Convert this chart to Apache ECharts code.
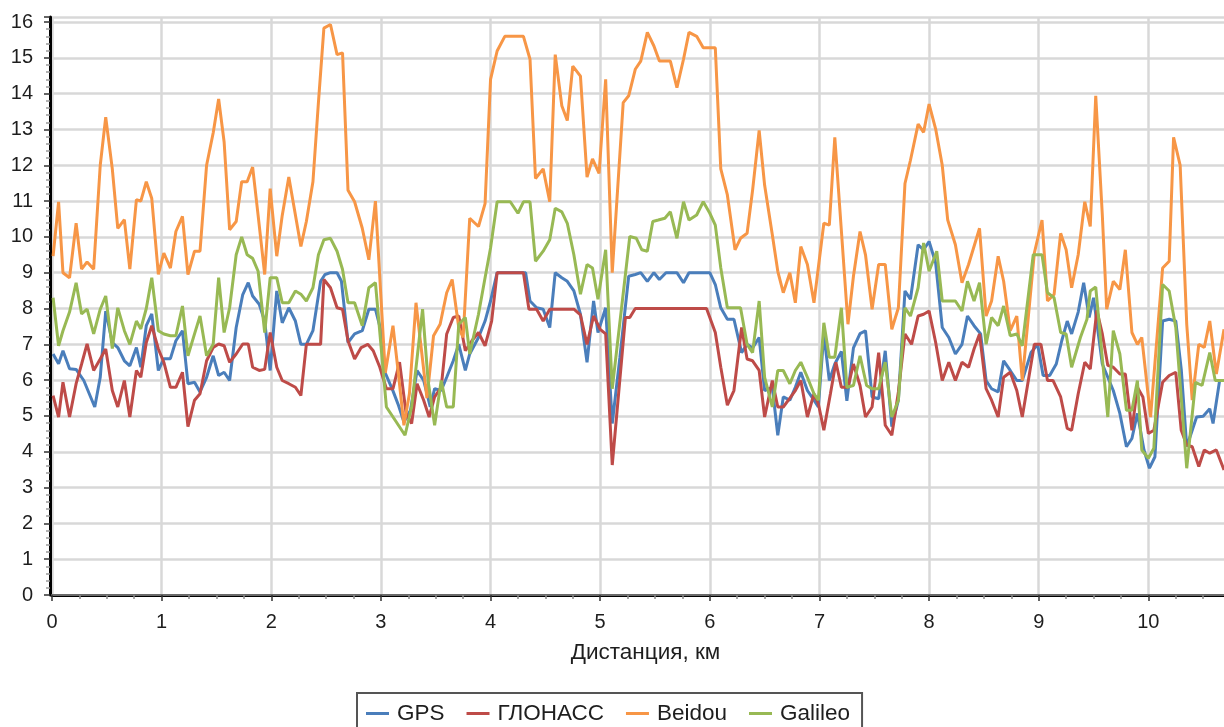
<!DOCTYPE html>
<html>
<head>
<meta charset="utf-8">
<script src="https://cdn.jsdelivr.net/npm/echarts@6/dist/echarts.min.js"></script>
<style>
  html, body { margin: 0; padding: 0; background: #fff; overflow: hidden; }
  #chart { width: 1224px; height: 727px; }
</style>
</head>
<body>
<div id="chart"></div>
<script>
// ---- Data (distance km, value) ----
const seriesNames = ['GPS', 'ГЛОНАСС', 'Beidou', 'Galileo'];
const xAxisName = 'Дистанция, км';

const gpsData = [[0.01,6.73],[0.06,6.46],[0.10,6.82],[0.16,6.32],[0.22,6.3],[0.29,5.99],[0.39,5.25],[0.44,6.08],[0.49,7.93],[0.55,7.05],[0.60,6.91],[0.66,6.54],[0.71,6.4],[0.77,6.91],[0.81,6.36],[0.86,7.52],[0.91,7.85],[0.97,6.27],[1.02,6.6],[1.08,6.6],[1.13,7.1],[1.19,7.38],[1.24,5.9],[1.30,5.94],[1.35,5.67],[1.41,6.08],[1.47,6.68],[1.52,6.13],[1.57,6.22],[1.62,5.99],[1.68,7.47],[1.74,8.39],[1.79,8.72],[1.83,8.35],[1.89,8.12],[1.94,7.65],[1.99,6.27],[2.05,8.49],[2.10,7.6],[2.16,8.02],[2.22,7.65],[2.27,7.0],[2.32,7.0],[2.38,7.38],[2.45,8.76],[2.49,8.95],[2.54,9.0],[2.60,9.0],[2.64,8.76],[2.70,7.05],[2.76,7.29],[2.83,7.38],[2.89,7.98],[2.95,7.98],[3.00,7.38],[3.04,6.2],[3.11,5.7],[3.16,5.3],[3.21,4.83],[3.27,5.16],[3.33,6.27],[3.39,5.99],[3.45,5.25],[3.49,5.76],[3.55,5.71],[3.60,6.08],[3.66,6.54],[3.71,7.0],[3.77,6.27],[3.81,6.73],[3.89,7.19],[3.95,7.65],[4.00,8.21],[4.06,9.0],[4.13,9.0],[4.19,9.0],[4.25,9.0],[4.32,9.0],[4.36,8.21],[4.42,8.02],[4.48,7.98],[4.54,7.47],[4.59,9.0],[4.65,8.86],[4.70,8.76],[4.76,8.49],[4.82,7.84],[4.88,6.5],[4.94,8.21],[4.98,7.33],[5.05,8.02],[5.11,4.79],[5.18,6.64],[5.26,8.9],[5.32,8.95],[5.37,9.0],[5.43,8.76],[5.49,9.0],[5.54,8.81],[5.60,9.0],[5.65,9.0],[5.70,9.0],[5.76,8.72],[5.81,9.0],[5.88,9.0],[5.94,9.0],[6.00,9.0],[6.05,8.67],[6.10,8.02],[6.16,7.7],[6.22,7.7],[6.29,6.77],[6.34,7.0],[6.39,6.9],[6.45,7.19],[6.50,5.71],[6.57,5.8],[6.62,4.46],[6.67,5.53],[6.73,5.44],[6.78,5.8],[6.83,6.22],[6.89,5.71],[6.95,5.44],[6.99,5.25],[7.04,7.29],[7.09,5.99],[7.14,6.45],[7.20,6.8],[7.25,5.42],[7.31,6.9],[7.37,7.3],[7.42,7.38],[7.48,5.53],[7.54,5.48],[7.60,6.82],[7.66,4.7],[7.72,5.44],[7.78,8.49],[7.83,8.26],[7.90,9.78],[7.95,9.64],[8.00,9.87],[8.06,9.27],[8.12,7.47],[8.18,7.19],[8.24,6.73],[8.30,7.0],[8.35,7.79],[8.41,7.52],[8.47,7.29],[8.52,5.99],[8.57,5.76],[8.63,5.67],[8.68,6.54],[8.74,6.27],[8.80,5.99],[8.85,5.99],[8.93,6.77],[8.99,7.0],[9.04,6.13],[9.10,6.13],[9.16,6.45],[9.21,7.1],[9.26,7.65],[9.30,7.29],[9.36,7.9],[9.41,8.72],[9.46,7.75],[9.50,8.3],[9.58,6.45],[9.63,6.08],[9.68,5.71],[9.74,5.07],[9.80,4.14],[9.85,4.37],[9.90,5.07],[9.96,4.05],[10.01,3.54],[10.06,3.86],[10.13,7.65],[10.19,7.7],[10.25,7.65],[10.30,6.3],[10.35,4.14],[10.40,4.6],[10.44,4.97],[10.50,4.99],[10.56,5.2],[10.59,4.79],[10.65,5.99],[10.69,5.99]];

const glonassData = [[0.01,5.57],[0.06,4.97],[0.10,5.94],[0.16,4.97],[0.22,5.9],[0.27,6.45],[0.32,7.01],[0.38,6.27],[0.44,6.59],[0.49,6.87],[0.55,5.71],[0.60,5.25],[0.66,5.99],[0.71,4.97],[0.77,6.27],[0.81,6.08],[0.86,7.05],[0.91,7.52],[0.97,6.87],[1.02,6.5],[1.08,5.8],[1.13,5.8],[1.19,6.22],[1.24,4.7],[1.30,5.44],[1.35,5.62],[1.41,6.54],[1.47,6.91],[1.52,7.01],[1.57,6.96],[1.62,6.5],[1.68,6.73],[1.74,7.01],[1.79,7.01],[1.83,6.36],[1.89,6.27],[1.94,6.3],[1.99,7.33],[2.05,6.36],[2.10,5.99],[2.16,5.9],[2.22,5.8],[2.27,5.57],[2.32,7.0],[2.38,7.0],[2.45,7.0],[2.48,8.81],[2.54,8.58],[2.60,8.02],[2.65,7.98],[2.70,7.1],[2.76,6.59],[2.82,6.91],[2.88,7.0],[2.93,6.82],[2.99,6.36],[3.05,5.76],[3.11,5.76],[3.17,6.5],[3.23,5.07],[3.28,4.79],[3.33,5.9],[3.39,5.44],[3.44,4.97],[3.49,5.53],[3.55,5.8],[3.60,7.29],[3.66,7.75],[3.71,7.79],[3.77,6.82],[3.83,7.1],[3.89,7.33],[3.95,6.96],[4.01,7.65],[4.06,9.0],[4.30,9.0],[4.35,7.98],[4.42,7.98],[4.48,7.65],[4.54,7.98],[4.76,7.98],[4.82,7.82],[4.88,7.0],[4.94,7.79],[5.00,7.42],[5.05,7.29],[5.11,3.63],[5.23,7.75],[5.27,7.75],[5.32,8.0],[5.97,8.0],[6.05,7.33],[6.10,6.36],[6.16,5.3],[6.22,5.71],[6.29,7.47],[6.34,6.59],[6.39,6.54],[6.45,6.27],[6.50,4.97],[6.57,5.99],[6.62,5.25],[6.67,5.25],[6.73,5.5],[6.78,5.71],[6.83,5.99],[6.89,4.97],[6.95,5.62],[6.99,5.34],[7.04,4.6],[7.10,5.62],[7.15,6.5],[7.20,5.8],[7.26,5.8],[7.31,6.45],[7.37,5.85],[7.42,4.97],[7.48,5.25],[7.54,6.77],[7.60,4.74],[7.66,4.46],[7.72,5.67],[7.78,7.29],[7.84,7.0],[7.90,7.79],[7.95,7.84],[8.00,7.93],[8.06,7.05],[8.12,5.99],[8.18,6.5],[8.24,5.99],[8.30,6.5],[8.36,6.36],[8.41,6.87],[8.46,7.29],[8.52,5.76],[8.57,5.44],[8.63,4.97],[8.68,6.08],[8.74,6.22],[8.80,5.71],[8.85,4.97],[8.91,6.08],[8.96,7.0],[9.02,7.0],[9.08,5.99],[9.13,5.99],[9.20,5.53],[9.26,4.65],[9.30,4.6],[9.36,5.62],[9.42,6.5],[9.47,6.31],[9.53,7.95],[9.58,7.29],[9.63,6.41],[9.68,6.36],[9.74,6.17],[9.79,6.17],[9.85,4.6],[9.90,5.8],[9.95,5.53],[10.00,4.51],[10.05,4.6],[10.13,5.94],[10.19,6.13],[10.25,6.22],[10.30,4.6],[10.35,4.19],[10.40,4.14],[10.46,3.59],[10.51,4.05],[10.56,3.96],[10.62,4.05],[10.69,3.49]];

const beidouData = [[0.01,9.46],[0.06,10.98],[0.10,9.0],[0.16,8.86],[0.22,10.38],[0.27,9.1],[0.32,9.3],[0.38,9.1],[0.44,12.0],[0.49,13.34],[0.55,11.9],[0.60,10.24],[0.66,10.48],[0.71,9.1],[0.77,11.04],[0.81,11.0],[0.86,11.54],[0.91,11.07],[0.97,8.95],[1.02,9.55],[1.08,9.13],[1.13,10.15],[1.19,10.57],[1.24,8.95],[1.30,9.6],[1.35,9.6],[1.41,12.0],[1.47,12.9],[1.52,13.85],[1.57,12.65],[1.62,10.2],[1.68,10.43],[1.73,11.54],[1.78,11.54],[1.83,11.95],[1.88,10.6],[1.94,8.95],[1.99,11.35],[2.05,9.46],[2.10,10.6],[2.16,11.67],[2.27,9.73],[2.32,10.43],[2.38,11.54],[2.43,13.75],[2.48,15.83],[2.54,15.93],[2.60,15.09],[2.65,15.14],[2.70,11.3],[2.76,10.98],[2.83,10.24],[2.89,9.36],[2.95,11.0],[3.04,6.2],[3.11,7.52],[3.16,6.17],[3.21,4.74],[3.26,5.62],[3.32,8.16],[3.42,5.5],[3.48,7.24],[3.54,7.56],[3.60,8.44],[3.65,8.81],[3.71,7.47],[3.75,7.19],[3.81,10.52],[3.89,10.29],[3.95,10.93],[4.00,14.4],[4.06,15.19],[4.13,15.6],[4.21,15.6],[4.30,15.6],[4.36,14.96],[4.41,11.63],[4.48,11.9],[4.54,10.98],[4.59,15.09],[4.65,13.66],[4.70,13.25],[4.75,14.77],[4.82,14.49],[4.88,11.67],[4.93,12.18],[4.99,11.77],[5.05,14.4],[5.11,9.0],[5.21,13.75],[5.26,13.94],[5.32,14.68],[5.37,14.91],[5.43,15.71],[5.49,15.33],[5.54,14.91],[5.64,14.91],[5.70,14.17],[5.76,14.96],[5.81,15.71],[5.88,15.6],[5.94,15.28],[6.00,15.28],[6.05,15.28],[6.10,11.9],[6.16,11.17],[6.23,9.64],[6.28,9.96],[6.34,10.1],[6.39,11.3],[6.45,12.97],[6.50,11.44],[6.57,10.06],[6.62,9.04],[6.67,8.44],[6.73,9.0],[6.78,8.16],[6.83,9.73],[6.89,9.23],[6.95,8.16],[7.04,10.38],[7.09,10.33],[7.14,12.78],[7.26,7.56],[7.31,8.9],[7.37,10.15],[7.42,9.5],[7.48,7.98],[7.54,9.23],[7.60,9.23],[7.66,7.42],[7.72,8.02],[7.78,11.49],[7.83,12.14],[7.90,13.15],[7.95,12.92],[8.00,13.71],[8.06,13.01],[8.12,12.0],[8.17,10.47],[8.24,9.78],[8.30,8.72],[8.36,9.23],[8.46,10.24],[8.52,7.79],[8.57,8.21],[8.63,9.46],[8.68,8.76],[8.74,7.38],[8.80,7.79],[8.85,5.99],[8.96,9.55],[9.03,10.47],[9.08,8.21],[9.14,8.39],[9.20,10.1],[9.25,9.64],[9.30,8.58],[9.36,9.5],[9.42,10.98],[9.47,10.29],[9.52,13.94],[9.58,10.61],[9.62,7.98],[9.68,8.76],[9.74,8.53],[9.79,9.64],[9.85,7.33],[9.90,7.0],[9.94,7.19],[10.02,4.97],[10.13,9.13],[10.19,9.32],[10.23,12.78],[10.29,12.0],[10.35,7.56],[10.40,5.44],[10.46,7.0],[10.51,6.91],[10.56,7.65],[10.62,6.17],[10.69,7.42]];

const galileoData = [[0.01,8.3],[0.06,6.96],[0.10,7.38],[0.16,7.9],[0.22,8.72],[0.27,7.85],[0.32,7.98],[0.38,7.29],[0.44,7.98],[0.49,8.35],[0.55,6.88],[0.60,8.02],[0.66,7.38],[0.71,7.0],[0.77,7.65],[0.81,7.43],[0.86,8.0],[0.91,8.86],[0.97,7.38],[1.02,7.29],[1.08,7.24],[1.13,7.24],[1.19,8.07],[1.24,6.68],[1.30,7.29],[1.35,7.79],[1.41,6.68],[1.47,7.0],[1.52,8.86],[1.57,7.33],[1.62,8.02],[1.68,9.5],[1.73,10.0],[1.78,9.5],[1.83,9.4],[1.88,9.04],[1.94,7.33],[1.99,8.86],[2.05,8.86],[2.10,8.16],[2.16,8.16],[2.22,8.49],[2.27,8.4],[2.32,8.21],[2.38,8.58],[2.43,9.5],[2.48,9.92],[2.54,9.96],[2.60,9.6],[2.65,9.09],[2.70,8.16],[2.76,8.16],[2.83,7.52],[2.89,8.58],[2.95,8.72],[3.05,5.25],[3.13,4.88],[3.22,4.46],[3.28,5.25],[3.38,7.98],[3.43,5.99],[3.49,4.74],[3.55,5.99],[3.60,5.25],[3.66,5.25],[3.71,7.56],[3.77,7.75],[3.81,6.73],[3.89,7.84],[3.95,8.86],[4.00,9.69],[4.06,10.98],[4.18,10.98],[4.25,10.66],[4.30,10.98],[4.36,10.98],[4.41,9.32],[4.48,9.6],[4.54,9.92],[4.59,10.8],[4.65,10.7],[4.70,10.38],[4.76,9.5],[4.82,8.4],[4.88,9.23],[4.93,9.13],[4.98,8.26],[5.05,9.64],[5.11,5.76],[5.27,10.01],[5.33,9.96],[5.38,9.64],[5.43,9.6],[5.48,10.43],[5.53,10.47],[5.59,10.52],[5.64,10.7],[5.70,9.96],[5.76,10.98],[5.81,10.47],[5.88,10.61],[5.94,10.98],[6.00,10.66],[6.05,10.33],[6.10,9.13],[6.16,8.02],[6.22,8.02],[6.28,8.02],[6.34,7.0],[6.39,6.77],[6.45,8.21],[6.50,6.08],[6.57,5.25],[6.62,6.27],[6.67,6.27],[6.73,5.9],[6.78,6.27],[6.83,6.5],[6.89,6.08],[6.95,5.62],[6.99,5.44],[7.04,7.6],[7.09,6.64],[7.14,6.64],[7.20,8.02],[7.25,5.8],[7.31,5.85],[7.37,6.68],[7.43,5.85],[7.48,5.76],[7.54,5.76],[7.60,6.5],[7.66,4.97],[7.72,5.44],[7.78,8.02],[7.83,7.79],[7.90,8.58],[7.95,9.83],[8.00,9.04],[8.07,9.6],[8.12,8.21],[8.18,8.21],[8.24,8.21],[8.30,7.93],[8.35,8.76],[8.41,8.21],[8.46,8.72],[8.52,7.0],[8.57,7.75],[8.63,7.52],[8.68,8.07],[8.74,7.24],[8.80,7.29],[8.85,6.96],[8.95,9.5],[9.03,9.5],[9.08,8.44],[9.14,8.3],[9.20,7.33],[9.25,7.29],[9.30,6.36],[9.38,7.19],[9.44,7.7],[9.47,8.49],[9.52,8.6],[9.63,4.97],[9.68,7.38],[9.74,6.73],[9.80,5.16],[9.85,5.16],[9.90,5.99],[9.94,4.05],[10.00,3.82],[10.05,4.1],[10.13,8.67],[10.19,8.49],[10.25,7.47],[10.35,3.54],[10.43,5.94],[10.49,5.85],[10.56,6.77],[10.61,5.99],[10.69,5.99]];

const seriesColors = ['#4a7ebb', '#be4b48', '#f79646', '#98b954'];
const allData = [gpsData, glonassData, beidouData, galileoData];

const FONT = '"Liberation Sans", Arial, sans-serif';
const chart = echarts.init(document.getElementById('chart'), null, { renderer: 'canvas' });

const option = {
  animation: false,
  backgroundColor: '#ffffff',
  textStyle: { fontFamily: FONT },
  grid: { left: 52, right: -34, top: 17, bottom: 132, containLabel: false, outerBoundsMode: 'none' },
  legend: {
    data: seriesNames,
    left: 357,
    top: 693,
    orient: 'horizontal',
    icon: 'rect',
    itemWidth: 23,
    itemHeight: 3,
    itemGap: 22,
    padding: [9, 12, 9, 9],
    borderColor: '#555555',
    borderWidth: 2,
    textStyle: { fontSize: 22.5, color: '#1e1e1e', fontFamily: FONT, padding: [0, 0, 0, 3] }
  },
  xAxis: [{
    type: 'value',
    min: 0, max: 11, interval: 1,
    name: xAxisName,
    nameLocation: 'middle',
    nameGap: 46,
    nameTextStyle: { fontSize: 22.5, color: '#1e1e1e', fontFamily: FONT, padding: [0, 19, 0, 0] },
    axisLine: { show: true, onZero: false, lineStyle: { color: '#000', width: 3 } },
    axisTick: { show: true, length: 6, lineStyle: { color: '#333', width: 1.5 } },
    minorTick: { show: true, splitNumber: 4, length: 4, lineStyle: { color: '#8a8a8a', width: 1.5 } },
    axisLabel: { fontSize: 20, color: '#1e1e1e', margin: 17, fontFamily: FONT },
    splitLine: { show: true, lineStyle: { color: '#d8d8d8', width: 2.5 } }
  }, {
    type: 'value', position: 'top', min: 0, max: 11,
    axisLine: { show: true, lineStyle: { color: '#6a6a6a', width: 2 } },
    axisTick: { show: false }, axisLabel: { show: false }, splitLine: { show: false }
  }],
  yAxis: {
    type: 'value',
    min: 0, max: 16.14, interval: 1,
    offset: 2,
    axisLine: { show: true, onZero: false, lineStyle: { color: '#000', width: 3 } },
    axisTick: { show: true, length: 6, lineStyle: { color: '#333', width: 1.5 } },
    minorTick: { show: true, splitNumber: 5, length: 4, lineStyle: { color: '#9a9a9a', width: 1.5 } },
    axisLabel: { fontSize: 20, color: '#1e1e1e', margin: 17, fontFamily: FONT, showMaxLabel: false },
    splitLine: { show: true, lineStyle: { color: '#d8d8d8', width: 2.5 } }
  },
  series: seriesNames.map((name, i) => ({
    name: name,
    type: 'line',
    xAxisIndex: 0,
    data: allData[i],
    showSymbol: false,
    symbol: 'none',
    color: seriesColors[i],
    lineStyle: { width: 3, color: seriesColors[i] },
    emphasis: { disabled: true }
  }))
};
chart.setOption(option);
</script>
</body>
</html>
